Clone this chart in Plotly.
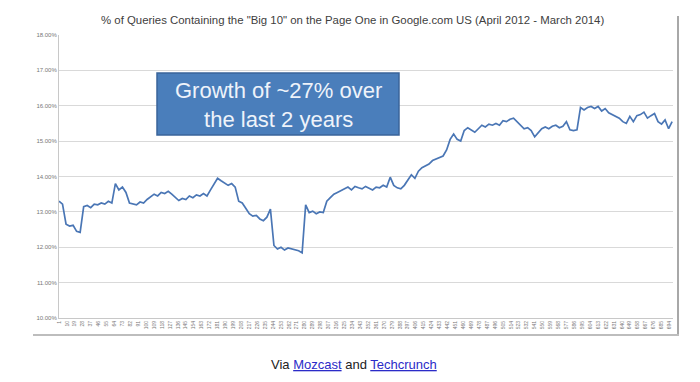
import plotly.graph_objects as go

# Values read every 4 days (day 1, 5, 9, ...), in percent
share_pct = [
    13.30, 13.22, 12.65, 12.60, 12.62, 12.45, 12.42, 13.15, 13.18, 13.12,  # days 1-37
    13.22, 13.20, 13.25, 13.22, 13.30, 13.25, 13.80, 13.62, 13.70, 13.55,  # 41-77
    13.25, 13.22, 13.20, 13.28, 13.25, 13.35, 13.42, 13.50, 13.45, 13.55,  # 81-117
    13.52, 13.58, 13.50, 13.40, 13.32, 13.38, 13.35, 13.45, 13.40, 13.48,  # 121-157
    13.45, 13.52, 13.45, 13.62, 13.80, 13.95, 13.88, 13.82, 13.75, 13.80,  # 161-197
    13.70, 13.30, 13.25, 13.10, 12.95, 12.88, 12.90, 12.80, 12.75, 12.85,  # 201-237
    13.08, 12.05, 11.95, 12.00, 11.92, 11.98, 11.95, 11.92, 11.90, 11.84,  # 241-277
    13.20, 12.98, 13.02, 12.95, 13.00, 12.98, 13.30, 13.40, 13.50, 13.55,  # 281-317
    13.60, 13.65, 13.70, 13.62, 13.72, 13.68, 13.65, 13.72, 13.68, 13.62,  # 321-357
    13.70, 13.68, 13.75, 13.70, 13.98, 13.75, 13.68, 13.65, 13.75, 13.90,  # 361-397
    14.05, 13.95, 14.15, 14.25, 14.30, 14.35, 14.45, 14.50, 14.55, 14.58,  # 401-437
    14.75, 15.05, 15.20, 15.05, 15.00, 15.30, 15.38, 15.32, 15.25, 15.35,  # 441-477
    15.45, 15.40, 15.48, 15.45, 15.50, 15.45, 15.58, 15.55, 15.62, 15.65,  # 481-517
    15.55, 15.45, 15.35, 15.38, 15.30, 15.12, 15.25, 15.35, 15.40, 15.35,  # 521-557
    15.42, 15.45, 15.38, 15.42, 15.55, 15.32, 15.30, 15.32, 15.95, 15.88,  # 561-597
    15.95, 15.98, 15.92, 15.98, 15.85, 15.92, 15.80, 15.75, 15.70, 15.65,  # 601-637
    15.55, 15.50, 15.70, 15.55, 15.72, 15.75, 15.82, 15.65, 15.72, 15.78,  # 641-677
    15.55, 15.48, 15.60, 15.35, 15.55,                                      # 681-697
]
day_index = [1 + 4 * i for i in range(len(share_pct))]

x_tick_days = list(range(1, 695, 9))
y_tick_vals = [10, 11, 12, 13, 14, 15, 16, 17, 18]
y_tick_text = [f"{v:.2f}%" for v in y_tick_vals]

title_text = '% of Queries Containing the "Big 10" on the Page One in Google.com US (April 2012 - March 2014)'
callout_text = "Growth of ~27% over<br>the last 2 years"

# the page body has an 8px default margin; work in window pixels and offset
OFF = 8
W, H = 700 - OFF, 382 - OFF
PL, PR, PT, PB = 59, 673, 35, 318          # plot area in window pixels
L, T = PL - OFF, PT - OFF
R, B = W - (PR - OFF), H - (PB - OFF)
pw, ph = PR - PL, PB - PT


def px(x):
    return (x - PL) / pw


def py(y):
    return (PB - y) / ph


fig = go.Figure()
fig.add_trace(go.Scatter(
    x=day_index, y=share_pct, mode="lines",
    line=dict(color="#4a76b5", width=1.7),
    hoverinfo="skip", showlegend=False,
))

fig.update_layout(
    width=W, height=H,
    margin=dict(l=L, r=R, t=T, b=B, pad=0),
    paper_bgcolor="white", plot_bgcolor="white",
    font=dict(family="Liberation Sans, Arial, sans-serif", color="#555555"),
    xaxis=dict(
        range=[1, 698], tickmode="array", tickvals=x_tick_days,
        ticktext=[str(d) for d in x_tick_days], tickangle=-90,
        tickfont=dict(size=5, color="#777777"), showgrid=False,
        showline=True, linecolor="#c8c8c8", linewidth=1,
        ticks="", zeroline=False, fixedrange=True,
    ),
    yaxis=dict(
        range=[10, 18], tickmode="array", tickvals=y_tick_vals, ticktext=y_tick_text,
        tickfont=dict(size=6, color="#777777"), showgrid=True,
        gridcolor="#d9d9d9", gridwidth=1,
        showline=True, linecolor="#c8c8c8", linewidth=1,
        ticks="", zeroline=False, fixedrange=True,
    ),
)

# chart frame (right and bottom edge shadow of the embedded chart image)
fig.add_shape(type="line", xref="paper", yref="paper",
              x0=px(678), x1=px(678), y0=py(16), y1=py(335),
              line=dict(color="#a8a8a8", width=2))
fig.add_shape(type="line", xref="paper", yref="paper",
              x0=px(33), x1=px(679), y0=py(335), y1=py(335),
              line=dict(color="#bdbdbd", width=2))

# title
fig.add_annotation(xref="paper", yref="paper", x=px(352), y=py(20),
                   text=title_text, showarrow=False,
                   font=dict(size=11.4, color="#404040",
                             family="Liberation Sans, Arial, sans-serif"),
                   xanchor="center", yanchor="middle")

# callout box
fig.add_shape(type="rect", xref="paper", yref="paper",
              x0=px(157), x1=px(399), y0=py(135), y1=py(73),
              fillcolor="#4a7ebb", line=dict(color="#3a649a", width=1.5))
fig.add_annotation(xref="paper", yref="paper", x=px(278), y=py(105),
                   text=callout_text, showarrow=False,
                   font=dict(size=22, color="#eef3fa",
                             family="Liberation Sans, Arial, sans-serif"),
                   xanchor="center", yanchor="middle", align="center")

# source line
fig.add_annotation(xref="paper", yref="paper", x=px(354), y=py(364),
                   text=("Via <span style='color:#2b2bc8'><u>Mozcast</u></span> and "
                         "<span style='color:#2b2bc8'><u>Techcrunch</u></span>"),
                   showarrow=False,
                   font=dict(size=13, color="#222222",
                             family="Liberation Sans, Arial, sans-serif"),
                   xanchor="center", yanchor="middle")

fig.write_html("out.html")
